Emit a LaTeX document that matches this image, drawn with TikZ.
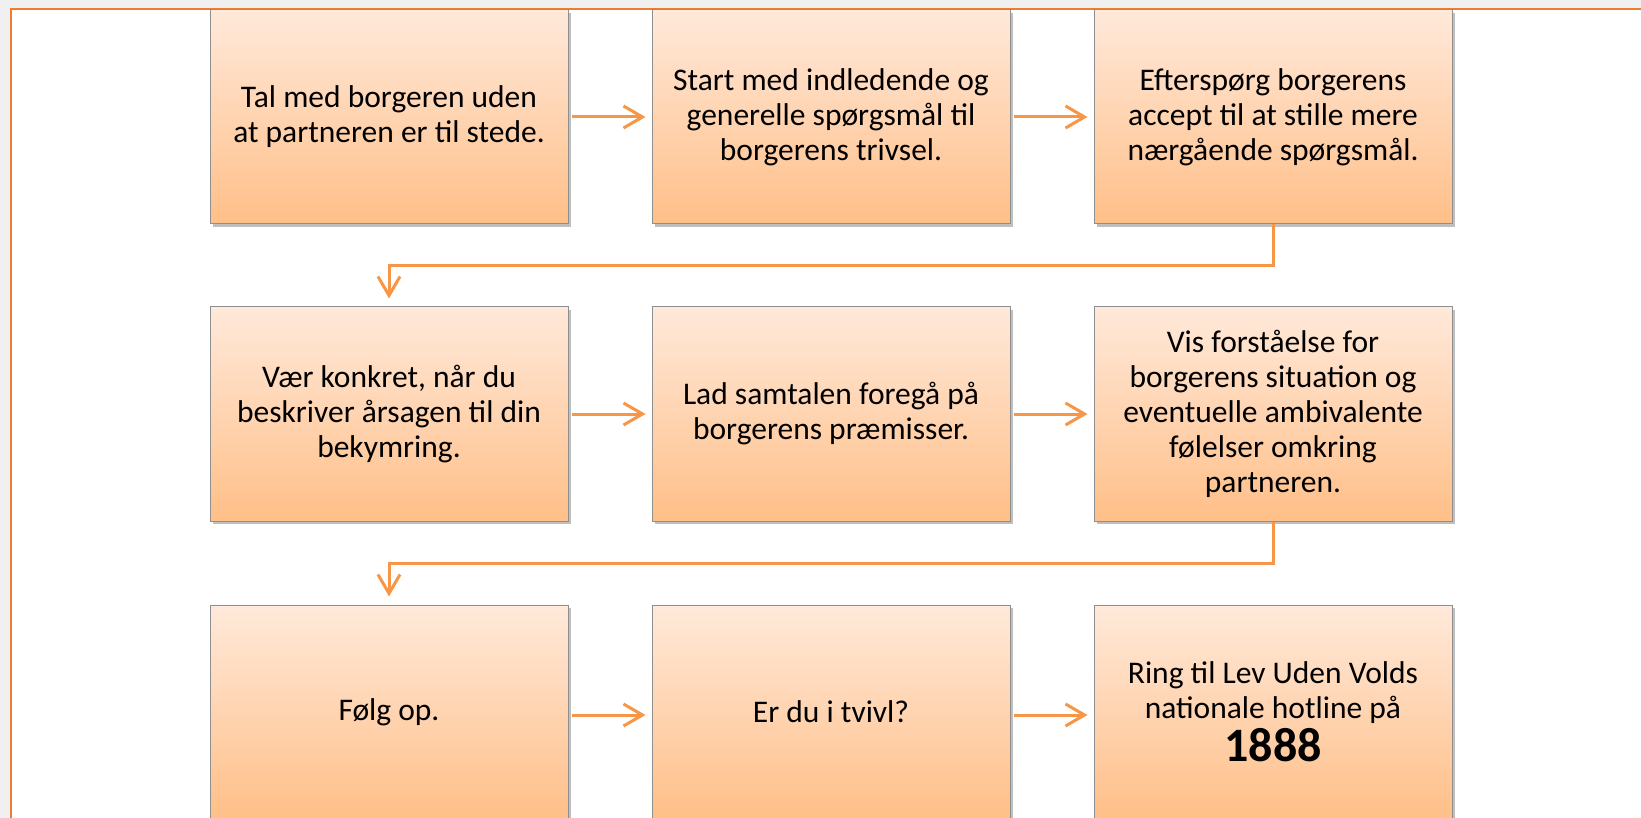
\documentclass[tikz,border=0pt]{standalone}
\usepackage{fontspec}
\setmainfont{Carlito}
\usetikzlibrary{arrows.meta,shadows,calc}
\definecolor{pagebg}{HTML}{F0F0F0}
\definecolor{frameor}{HTML}{ED7D31}
\definecolor{arrowor}{HTML}{F79646}
\definecolor{boxtop}{HTML}{FFE9DA}
\definecolor{boxbot}{HTML}{FFBF88}
\definecolor{boxline}{HTML}{8F8F8F}
\tikzset{
  stepbox/.style={rectangle, draw=boxline, line width=1pt,
    top color=boxtop, bottom color=boxbot,
    minimum width=358pt, minimum height=214pt, inner sep=0pt,
    align=center, font=\fontsize{31.5}{35}\selectfont,
    drop shadow={shadow xshift=3pt, shadow yshift=-3pt, opacity=0.25, fill=black}},
  arr/.style={draw=arrowor, line width=3pt,
    -{Straight Barb[length=19pt, width=22pt, line width=3pt]}},
  con/.style={draw=arrowor, line width=3pt}
}
\begin{document}
\begin{tikzpicture}[x=1pt,y=-1pt]
\useasboundingbox (0,0) rectangle (1641,818);
\fill[pagebg] (0,0) rectangle (1641,818);
\fill[white] (11,9) rectangle (1650,830);
\draw[frameor, line width=2.2pt] (11,830) -- (11,9) -- (1650,9);

\node[stepbox] (b1) at (389,117) {Tal med borgeren uden\\at partneren er til stede.};
\node[stepbox] (b2) at (831,117) {Start med indledende og\\generelle spørgsmål til\\borgerens trivsel.};
\node[stepbox] (b3) at (1273,117) {Efterspørg borgerens\\accept til at stille mere\\nærgående spørgsmål.};

\node[stepbox] (b4) at (389,414) {Vær konkret, når du\\beskriver årsagen til din\\bekymring.};
\node[stepbox] (b5) at (831,414) {Lad samtalen foregå på\\borgerens præmisser.};
\node[stepbox] (b6) at (1273,414) {Vis forståelse for\\borgerens situation og\\eventuelle ambivalente\\følelser omkring\\partneren.};

\node[stepbox] (b7) at (389,712) {Følg op.};
\node[stepbox] (b8) at (831,712) {Er du i tvivl?};
\node[stepbox] (b9) at (1273,712) {Ring til Lev Uden Volds\\nationale hotline på\\[4pt]{\fontsize{48}{50}\selectfont\bfseries 1888}};

\draw[arr] ([xshift=3pt]b1.east) -- ([xshift=-6pt]b2.west);
\draw[arr] ([xshift=3pt]b2.east) -- ([xshift=-6pt]b3.west);
\draw[arr] ([xshift=3pt]b4.east) -- ([xshift=-6pt]b5.west);
\draw[arr] ([xshift=3pt]b5.east) -- ([xshift=-6pt]b6.west);
\draw[arr] ([xshift=3pt,yshift=-3pt]b7.east) -- ([xshift=-6pt,yshift=-3pt]b8.west);
\draw[arr] ([xshift=3pt,yshift=-3pt]b8.east) -- ([xshift=-6pt,yshift=-3pt]b9.west);

\coordinate (c1) at (389,266);
\coordinate (c2) at (389,563);
\draw[arr] (b3.south) |- (c1) -- ([yshift=8pt]b4.north);
\draw[arr] (b6.south) |- (c2) -- ([yshift=8pt]b7.north);
\end{tikzpicture}
\end{document}
